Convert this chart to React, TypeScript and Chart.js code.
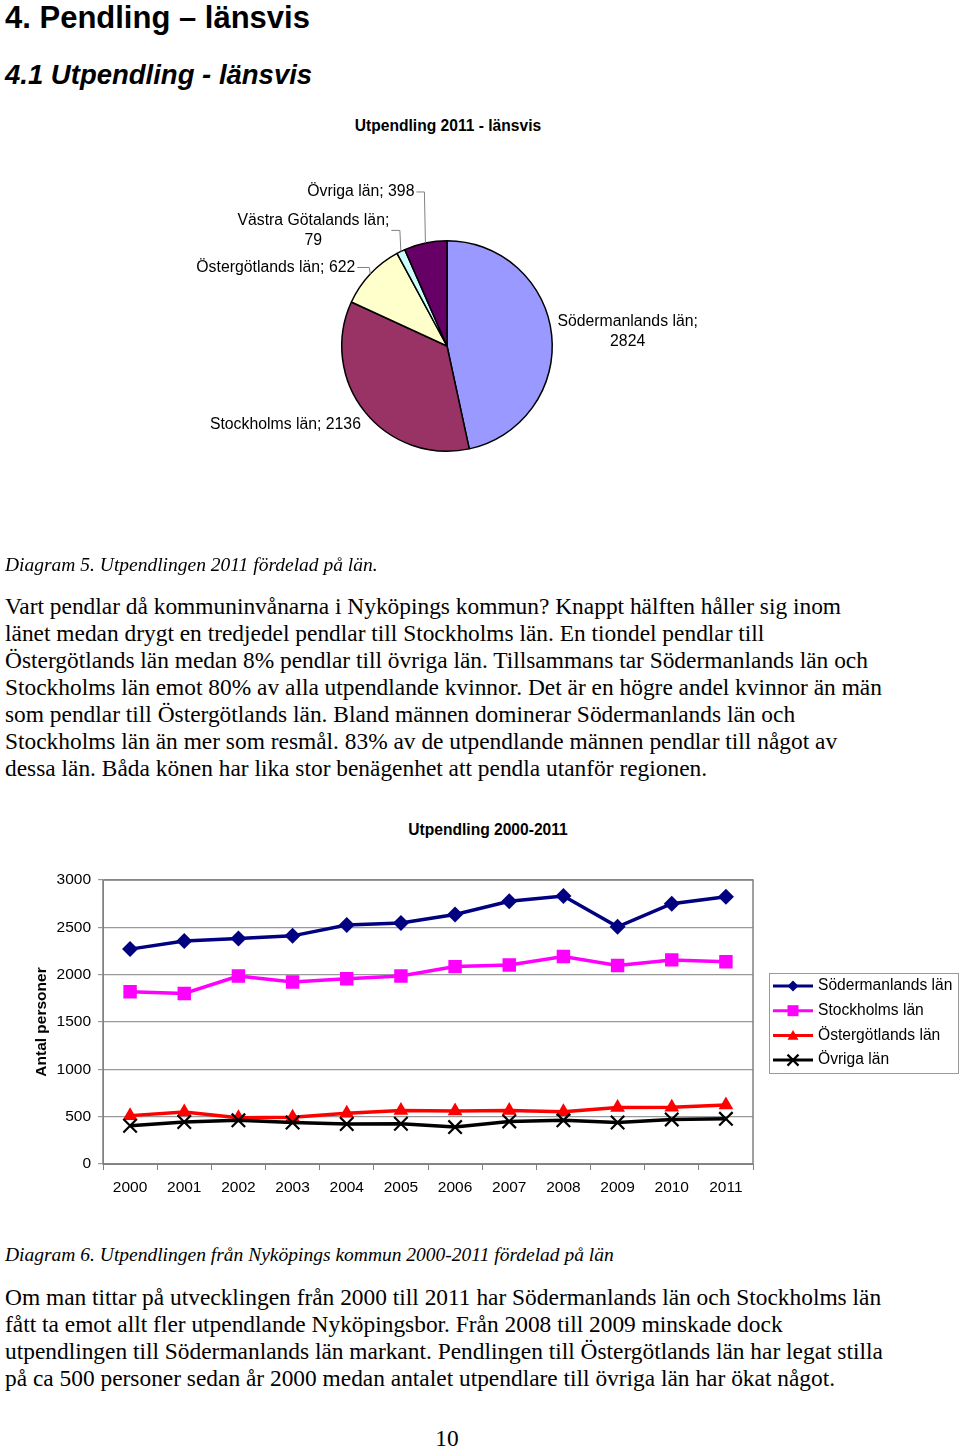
import React, { useEffect, useRef } from "react";
import { Chart, registerables } from "chart.js";

Chart.register(...registerables);

// ---------- Data ----------
const pieLabels = ["Södermanlands län", "Stockholms län", "Östergötlands län", "Västra Götalands län", "Övriga län"];
const pieValues = [2824, 2136, 622, 79, 398];
const pieColors = ["#9999FF", "#993366", "#FFFFCC", "#CCFFFF", "#660066"];
const pieWrap = [true, false, false, true, false];

const years = ["2000", "2001", "2002", "2003", "2004", "2005", "2006", "2007", "2008", "2009", "2010", "2011"];
const sodermanland = [2270, 2355, 2382, 2410, 2525, 2545, 2635, 2775, 2830, 2505, 2750, 2824];
const stockholm = [1819, 1801, 1986, 1922, 1957, 1986, 2085, 2103, 2191, 2096, 2156, 2136];
const ostergotland = [511, 550, 489, 493, 535, 564, 561, 564, 553, 596, 599, 622];
const ovriga = [404, 444, 461, 439, 422, 425, 390, 450, 461, 439, 471, 477];
const seriesNames = ["Södermanlands län", "Stockholms län", "Östergötlands län", "Övriga län"];
const seriesColors = ["#000080", "#FF00FF", "#FF0000", "#000000"];
const seriesMarkers = ["rectRot", "rect", "triangle", "crossRot"];
const yMin = 0;
const yMax = 3000;
const yStep = 500;

const SANS = "'Liberation Sans', Arial, sans-serif";
const SERIF = "'Liberation Serif', 'Times New Roman', serif";

// label placement relative to each slice's outer mid-point
const pieLabelPlacement = [
  { dx: 76, dy: -3, align: "center", leader: false },
  { dx: -4, dy: 13, align: "right", leader: false },
  { dx: -15, dy: -6.5, align: "right", leader: true },
  { dx: -87.5, dy: -21, align: "center", leader: true },
  { dx: -11, dy: -51, align: "right", leader: true },
];

const pieLabelPlugin = {
  id: "pieLabels",
  afterDraw(chart: any) {
    const ctx = chart.ctx;
    const meta = chart.getDatasetMeta(0);
    ctx.save();
    ctx.font = `15.8px ${SANS}`;
    ctx.fillStyle = "#000";
    ctx.textBaseline = "middle";
    meta.data.forEach((arc: any, i: number) => {
      const p = arc.getProps(["x", "y", "startAngle", "endAngle", "outerRadius"], true);
      const mid = (p.startAngle + p.endAngle) / 2;
      const ax = p.x + p.outerRadius * Math.cos(mid);
      const ay = p.y + p.outerRadius * Math.sin(mid);
      const pl = pieLabelPlacement[i];
      const lines = pieWrap[i]
        ? [`${pieLabels[i]};`, `${pieValues[i]}`]
        : [`${pieLabels[i]}; ${pieValues[i]}`];
      const lh = 20;
      const cx = ax + pl.dx;
      const cy = ay + pl.dy;
      let right = -Infinity;
      lines.forEach((ln, k) => {
        const w = ctx.measureText(ln).width;
        const y = cy + (k - (lines.length - 1) / 2) * lh;
        let x = cx;
        if (pl.align === "center") x = cx - w / 2;
        else if (pl.align === "right") x = cx - w;
        ctx.textAlign = "left";
        ctx.fillText(ln, x, y);
        right = Math.max(right, x + w);
      });
      if (pl.leader) {
        ctx.strokeStyle = "#808080";
        ctx.lineWidth = 1;
        ctx.beginPath();
        ctx.moveTo(right + 2, cy);
        ctx.lineTo(ax - 1, cy);
        ctx.lineTo(ax, ay);
        ctx.stroke();
      }
    });
    ctx.restore();
  },
};

function drawMarker(ctx: CanvasRenderingContext2D, style: string, x: number, y: number, r: number, color: string) {
  ctx.save();
  ctx.fillStyle = color;
  ctx.strokeStyle = color;
  ctx.beginPath();
  if (style === "rectRot") {
    ctx.moveTo(x, y - r);
    ctx.lineTo(x + r, y);
    ctx.lineTo(x, y + r);
    ctx.lineTo(x - r, y);
    ctx.closePath();
    ctx.fill();
  } else if (style === "rect") {
    ctx.rect(x - r, y - r, 2 * r, 2 * r);
    ctx.fill();
  } else if (style === "triangle") {
    ctx.moveTo(x, y - r);
    ctx.lineTo(x + r, y + r * 0.8);
    ctx.lineTo(x - r, y + r * 0.8);
    ctx.closePath();
    ctx.fill();
  } else {
    ctx.lineWidth = 2.2;
    ctx.moveTo(x - r, y - r);
    ctx.lineTo(x + r, y + r);
    ctx.moveTo(x + r, y - r);
    ctx.lineTo(x - r, y + r);
    ctx.stroke();
  }
  ctx.restore();
}

const frameAndLegendPlugin = {
  id: "frameLegend",
  beforeDatasetsDraw(chart: any) {
    const { ctx, chartArea: a } = chart;
    ctx.save();
    ctx.strokeStyle = "#808080";
    ctx.lineWidth = 1.5;
    ctx.strokeRect(a.left, a.top, a.right - a.left, a.bottom - a.top);
    ctx.restore();
  },
  afterDraw(chart: any) {
    const { ctx, chartArea: a } = chart;
    const boxW = 189;
    const boxH = 100;
    const left = a.right + 16;
    const top = (a.top + a.bottom) / 2 - boxH / 2 + 1;
    ctx.save();
    ctx.strokeStyle = "#9a9a9a";
    ctx.lineWidth = 1;
    ctx.strokeRect(left + 0.5, top + 0.5, boxW, boxH);
    ctx.font = `15.6px ${SANS}`;
    ctx.textBaseline = "middle";
    ctx.textAlign = "left";
    seriesNames.forEach((name, i) => {
      const y = top + 13 + i * 24.7;
      ctx.strokeStyle = seriesColors[i];
      ctx.lineWidth = 3;
      ctx.beginPath();
      ctx.moveTo(left + 4, y);
      ctx.lineTo(left + 44, y);
      ctx.stroke();
      drawMarker(ctx, seriesMarkers[i], left + 24, y, 5.5, seriesColors[i]);
      ctx.fillStyle = "#000";
      ctx.fillText(name, left + 49, y);
    });
    ctx.restore();
  },
};

function PieChart() {
  const ref = useRef<HTMLCanvasElement | null>(null);
  useEffect(() => {
    const chart = new Chart(ref.current!, {
      type: "pie",
      data: {
        labels: pieLabels,
        datasets: [
          {
            data: pieValues,
            backgroundColor: pieColors,
            borderColor: "#000000",
            borderWidth: 1.5,
          },
        ],
      },
      options: {
        animation: false,
        responsive: false,
        layout: { padding: { left: 341, right: 407, top: 100, bottom: 108 } },
        plugins: { legend: { display: false }, tooltip: { enabled: false } },
      },
      plugins: [pieLabelPlugin],
    });
    return () => chart.destroy();
  }, []);
  return (
    <canvas
      ref={ref}
      width={960}
      height={420}
      style={{ position: "absolute", left: 0, top: 140, width: 960, height: 420 }}
    />
  );
}

function LineChart() {
  const ref = useRef<HTMLCanvasElement | null>(null);
  useEffect(() => {
    const series = [sodermanland, stockholm, ostergotland, ovriga];
    const radii = [8, 9.5, 8.5, 9.5];
    const chart = new Chart(ref.current!, {
      type: "line",
      data: {
        labels: years,
        datasets: series.map((d, i) => ({
          label: seriesNames[i],
          data: d,
          borderColor: seriesColors[i],
          backgroundColor: seriesColors[i],
          pointBackgroundColor: i === 3 ? "rgba(0,0,0,0)" : seriesColors[i],
          pointBorderColor: seriesColors[i],
          pointBorderWidth: i === 3 ? 2.2 : 0,
          pointStyle: seriesMarkers[i] as any,
          pointRadius: radii[i],
          borderWidth: 3.5,
          tension: 0,
          fill: false,
          order: 3 - i,
        })),
      },
      options: {
        animation: false,
        responsive: false,
        layout: { padding: { left: 24, right: 207, top: 40, bottom: 10 } },
        plugins: { legend: { display: false }, tooltip: { enabled: false } },
        scales: {
          x: {
            offset: true,
            grid: { offset: true, drawOnChartArea: false, drawTicks: true, tickLength: 6, color: "#808080" },
            border: { color: "#808080" },
            ticks: {
              color: "#000",
              font: { family: SANS, size: 15.5 },
              padding: 8,
              maxRotation: 0,
              autoSkip: false,
            },
            afterFit: (s: any) => {
              s.height = 40;
            },
          },
          y: {
            min: yMin,
            max: yMax,
            ticks: {
              stepSize: yStep,
              color: "#000",
              font: { family: SANS, size: 15.5 },
              padding: 7,
              callback: (v: any) => String(v),
            },
            grid: { color: "#9a9a9a", tickLength: 5, lineWidth: 1.2 },
            border: { color: "#808080" },
            title: {
              display: true,
              text: "Antal personer",
              color: "#000",
              font: { family: SANS, size: 15.5, weight: "bold" },
              padding: { top: 8, bottom: 0 },
            },
            afterFit: (s: any) => {
              s.width = 79;
            },
          },
        },
      },
      plugins: [frameAndLegendPlugin],
    });
    return () => chart.destroy();
  }, []);
  return (
    <canvas
      ref={ref}
      width={960}
      height={374}
      style={{ position: "absolute", left: 0, top: 840, width: 960, height: 374 }}
    />
  );
}

type TP = {
  x: number;
  y: number;
  size: number;
  family: string;
  bold?: boolean;
  italic?: boolean;
  center?: boolean;
  children: React.ReactNode;
};
function T({ x, y, size, family, bold, italic, center, children }: TP) {
  const lh = Math.round(size * 1.2);
  const style: React.CSSProperties = {
    position: "absolute",
    top: y - lh / 2,
    lineHeight: `${lh}px`,
    fontSize: size,
    fontFamily: family,
    fontWeight: bold ? "bold" : "normal",
    fontStyle: italic ? "italic" : "normal",
    whiteSpace: "nowrap",
    color: "#000",
  };
  if (center) {
    style.left = x - 400;
    style.width = 800;
    style.textAlign = "center";
  } else {
    style.left = x;
  }
  return <div style={style}>{children}</div>;
}

const para1 = [
  "Vart pendlar då kommuninvånarna i Nyköpings kommun? Knappt hälften håller sig inom",
  "länet medan drygt en tredjedel pendlar till Stockholms län. En tiondel pendlar till",
  "Östergötlands län medan 8% pendlar till övriga län. Tillsammans tar Södermanlands län och",
  "Stockholms län emot 80% av alla utpendlande kvinnor. Det är en högre andel kvinnor än män",
  "som pendlar till Östergötlands län. Bland männen dominerar Södermanlands län och",
  "Stockholms län än mer som resmål. 83% av de utpendlande männen pendlar till något av",
  "dessa län. Båda könen har lika stor benägenhet att pendla utanför regionen.",
];
const para2 = [
  "Om man tittar på utvecklingen från 2000 till 2011 har Södermanlands län och Stockholms län",
  "fått ta emot allt fler utpendlande Nyköpingsbor. Från 2008 till 2009 minskade dock",
  "utpendlingen till Södermanlands län markant. Pendlingen till Östergötlands län har legat stilla",
  "på ca 500 personer sedan år 2000 medan antalet utpendlare till övriga län har ökat något.",
];

const BODY = 23.4;
const CAP = 19.5;

export default function App() {
  return (
    <div
      style={{
        position: "absolute",
        left: 0,
        top: 0,
        width: 960,
        height: 1448,
        background: "#fff",
        overflow: "hidden",
      }}
    >
      <T x={5} y={17} size={31} family={SANS} bold>
        4. Pendling – länsvis
      </T>
      <T x={5} y={74} size={27.5} family={SANS} bold italic>
        4.1 Utpendling - länsvis
      </T>
      <T x={448} y={125} size={15.6} family={SANS} bold center>
        Utpendling 2011 - länsvis
      </T>
      <PieChart />
      <T x={5} y={564} size={CAP} family={SERIF} italic>
        Diagram 5. Utpendlingen 2011 fördelad på län.
      </T>
      {para1.map((ln, i) => (
        <T key={"a" + i} x={5} y={606 + i * 27} size={BODY} family={SERIF}>
          {ln}
        </T>
      ))}
      <T x={488} y={829} size={15.6} family={SANS} bold center>
        Utpendling 2000-2011
      </T>
      <LineChart />
      <T x={5} y={1254} size={CAP} family={SERIF} italic>
        Diagram 6. Utpendlingen från Nyköpings kommun 2000-2011 fördelad på län
      </T>
      {para2.map((ln, i) => (
        <T key={"b" + i} x={5} y={1297 + i * 27} size={BODY} family={SERIF}>
          {ln}
        </T>
      ))}
      <T x={447} y={1438} size={BODY} family={SERIF} center>
        10
      </T>
    </div>
  );
}
